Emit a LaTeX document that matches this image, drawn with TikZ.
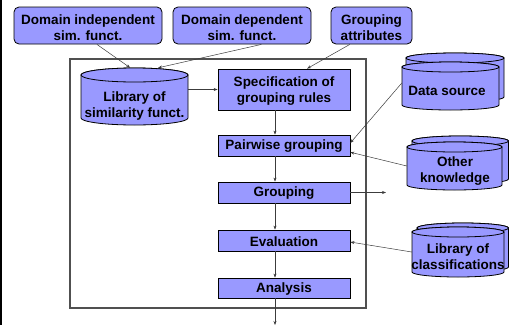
\documentclass[tikz,border=0pt]{standalone}
\usepackage{fontspec}
\setmainfont{Liberation Sans}
\usetikzlibrary{calc,arrows.meta}
\definecolor{boxfill}{RGB}{153,153,255}
\definecolor{framecol}{RGB}{80,80,80}
\definecolor{arrcol}{RGB}{60,60,60}
\tikzset{
  txt/.style={font=\fontsize{13.5}{16}\selectfont\bfseries, align=center, inner sep=0pt},
  topbox/.style={draw=black, line width=0.8pt, fill=boxfill, rounded corners=5pt, inner sep=0pt},
  stepbox/.style={draw=black, line width=0.8pt, fill=boxfill, inner sep=0pt, minimum width=132pt},
  area/.style={draw=none, inner sep=0pt},
  cylst/.style={draw=black, line width=0.8pt, fill=boxfill},
  arr/.style={draw=arrcol, line width=0.5pt, -{Stealth[length=4pt,width=3pt]}},
}
\newcommand\drawcyl[5]{%
  \pgfmathsetmacro\cx{(#1+#2)/2}\pgfmathsetmacro\rx{(#2-#1)/2}%
  \pgfmathsetmacro\yt{#3+#5}\pgfmathsetmacro\yb{#4-#5}%
  \filldraw[cylst] (#1,\yt) -- (#1,\yb) arc[start angle=180,end angle=360,x radius=\rx pt,y radius=#5pt] -- (#2,\yt) arc[start angle=0,end angle=180,x radius=\rx pt,y radius=#5pt] -- cycle;
  \filldraw[cylst] (\cx,\yt) ellipse[x radius=\rx pt, y radius=#5pt];
}
\begin{document}
\begin{tikzpicture}[x=1pt,y=-1pt]
\useasboundingbox (0,0) rectangle (509,325);
% left edge bar
\draw[black, line width=2pt] (1,0) -- (1,325);
% frame
\draw[framecol, line width=1.1pt] (70,59) rectangle (366,308);

% top boxes
\node[topbox, minimum width=148pt, minimum height=37pt] (dind) at (88,25.5) {};
\node[txt] (dindt) at (88,27.5) {Domain independent\\sim. funct.};
\node[topbox, minimum width=138pt, minimum height=37pt] (ddep) at (242,25.5) {};
\node[txt] (ddept) at (242,27.5) {Domain dependent\\sim. funct.};
\node[topbox, minimum width=81pt, minimum height=37pt] (gatt) at (371.5,25.5) {};
\node[txt] (gattt) at (371.5,27.5) {Grouping\\attributes};

% library of similarity functions (cylinder)
\drawcyl{81}{188}{68}{125}{7}
\node[area, minimum width=107pt, minimum height=57pt] (lib) at (134.5,96.5) {};
\node[txt] (libt) at (134.5,106) {Library of\\similarity funct.};

% steps
\node[stepbox, minimum height=41pt] (spec) at (284,89.5) {};
\node[txt] (spect) at (284,91) {Specification of\\grouping rules};
\node[stepbox, minimum height=21pt] (pair) at (284,145.5) {};
\node[txt] (pairt) at (284,146.5) {Pairwise grouping};
\node[stepbox, minimum height=21pt] (grp) at (284,192.5) {};
\node[txt] (grpt) at (284,193.5) {Grouping};
\node[stepbox, minimum height=21pt] (eval) at (284,240.5) {};
\node[txt] (evalt) at (284,241.5) {Evaluation};
\node[stepbox, minimum height=20pt] (anal) at (284,288) {};
\node[txt] (analt) at (284,289) {Analysis};

% data source
\drawcyl{406}{504}{53}{102}{5}
\drawcyl{402}{499}{62}{110}{5}
\node[area, minimum width=97pt, minimum height=48pt] (ds) at (450.5,86) {};
\node[txt] (dst) at (447,91) {Data source};

% other knowledge
\drawcyl{412}{508.5}{136}{184}{5}
\drawcyl{407}{502}{142}{190}{5}
\node[area, minimum width=95pt, minimum height=48pt] (ok) at (454.5,166) {};
\node[txt] (okt) at (455,171) {Other\\knowledge};

% library of classifications
\drawcyl{417}{508.5}{223}{272}{5}
\drawcyl{412}{504}{227}{277}{5}
\node[area, minimum width=92pt, minimum height=50pt] (lc) at (458,252) {};
\node[txt] (lct) at (458,257) {Library of\\classifications};

% helper coordinates
\coordinate (col) at (275,0);
\coordinate (gout) at (386,192.5);
\coordinate (aout) at (275,325);

% connectors
\draw[arr] ($(dind.south west)!0.56!(dind.south east)$) -- ($(lib.north west)!0.46!(lib.north east)$);
\draw[arr] ($(ddep.south west)!0.64!(ddep.south east)$) -- ($(lib.north west)!0.72!(lib.north east)$);
\draw[arr] ($(gatt.south west)!0.235!(gatt.south east)$) -- ($(spec.north west)!0.674!(spec.north east)$);
\draw[arr] (lib.east |- spec.west) -- (spec.west);
\draw[arr] (spec.south -| col) -- (pair.north -| col);
\draw[arr] (pair.south -| col) -- (grp.north -| col);
\draw[arr] (grp.south -| col) -- (eval.north -| col);
\draw[arr] (eval.south -| col) -- (anal.north -| col);
\draw[arr] (anal.south -| col) -- (aout);
\draw[arr] (grp.east) -- (gout);
\draw[arr] ($(ds.west)+(0,-3)$) -- ($(pair.north east)!0.38!(pair.south east)$);
\draw[arr] (ok.west) -- ($(pair.north east)!0.81!(pair.south east)$);
\draw[arr] (lc.west) -- ($(eval.north east)!0.57!(eval.south east)$);
\end{tikzpicture}
\end{document}
